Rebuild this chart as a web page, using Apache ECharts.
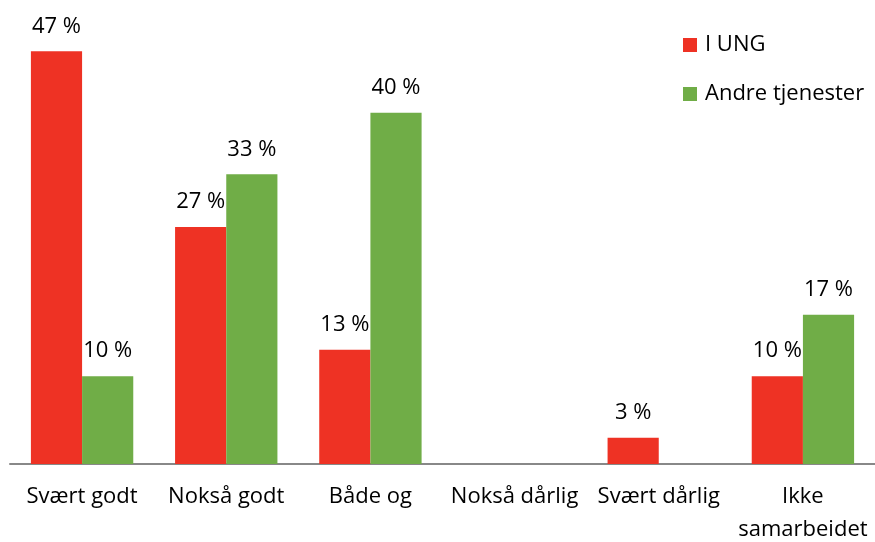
<!DOCTYPE html>
<html>
<head>
<meta charset="utf-8">
<script src="https://cdn.jsdelivr.net/npm/echarts@6/dist/echarts.min.js"></script>
<style>
  html, body { margin: 0; padding: 0; background: #fff; }
  #chart { width: 875px; height: 542px; }
</style>
</head>
<body>
<div id="chart"></div>
<script>
// Categories and percentage values for the two groups of respondents
const categories = ['Svært godt', 'Nokså godt', 'Både og', 'Nokså dårlig', 'Svært dårlig', 'Ikke\nsamarbeidet'];
const seriesNames = ['I UNG', 'Andre tjenester'];
const iUng = [47, 27, 13, null, 3, 10];
const andreTjenester = [10, 33, 40, null, null, 17];

const FONT = '"Open Sans", "DejaVu Sans", sans-serif';
const FONT_SIZE = 22;
const RED = '#EE3224';
const GREEN = '#70AD47';

const chart = echarts.init(document.getElementById('chart'));

const labelStyle = {
  show: true,
  position: 'top',
  distance: 14,
  color: '#000',
  fontFamily: FONT,
  fontSize: FONT_SIZE,
  formatter: p => p.value + ' %'
};

chart.setOption({
  animation: false,
  backgroundColor: '#fff',
  grid: { left: 10, right: 0, top: 25, bottom: 78, outerBoundsMode: 'none' },
  legend: {
    orient: 'vertical',
    left: 683,
    top: 34,
    padding: 0,
    icon: 'rect',
    itemWidth: 14,
    itemHeight: 14,
    itemGap: 27,
    textStyle: { fontFamily: FONT, fontSize: FONT_SIZE, color: '#000', padding: [0, 0, 0, 3] },
    data: seriesNames
  },
  xAxis: {
    type: 'category',
    data: categories,
    axisLine: { lineStyle: { color: '#888', width: 2 } },
    axisTick: { show: false },
    axisLabel: {
      color: '#000',
      fontFamily: FONT,
      fontSize: FONT_SIZE,
      margin: 16,
      lineHeight: 33,
      interval: 0
    }
  },
  yAxis: {
    type: 'value',
    min: 0,
    max: 50,
    show: false,
    splitLine: { show: false }
  },
  series: [
    {
      name: seriesNames[0],
      type: 'bar',
      data: iUng,
      itemStyle: { color: RED },
      barGap: '0%',
      barCategoryGap: '29%',
      label: labelStyle
    },
    {
      name: seriesNames[1],
      type: 'bar',
      data: andreTjenester,
      itemStyle: { color: GREEN },
      label: labelStyle
    }
  ]
});
</script>
</body>
</html>
